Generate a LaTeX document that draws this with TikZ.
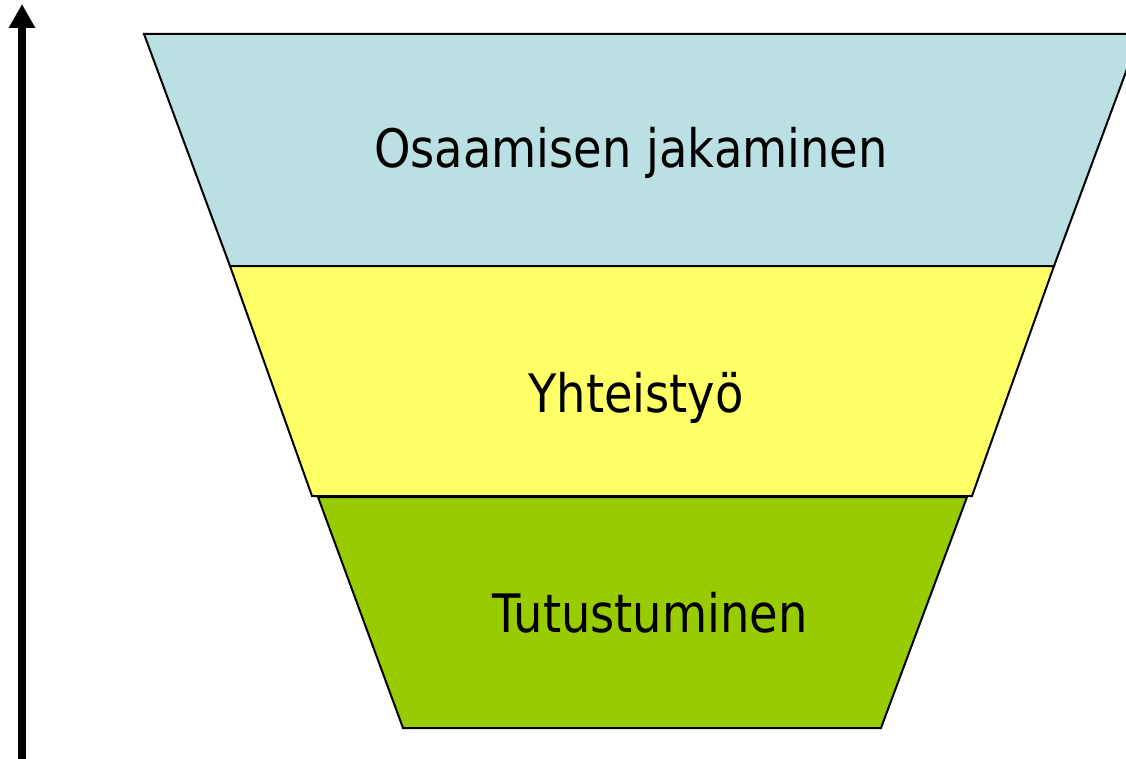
\documentclass[tikz,border=0pt]{standalone}
\usepackage{fontspec}
\setmainfont{DejaVu Sans}
\newfontfamily\labfont[FakeStretch=0.875]{DejaVu Sans}
\usetikzlibrary{arrows.meta}
\definecolor{lblue}{RGB}{186,224,228}
\definecolor{lyellow}{RGB}{255,255,102}
\definecolor{lgreen}{RGB}{153,204,0}
\tikzset{
  band/.style={draw=black, line width=2pt, line join=miter},
  lab/.style={font=\labfont\fontsize{53}{60}\selectfont, inner sep=0pt, anchor=base},
}
\begin{document}
\begin{tikzpicture}[x=1pt,y=-1pt]
\useasboundingbox (0,0) rectangle (1126,759);
\clip (0,0) rectangle (1126,759);
\fill[white] (0,0) rectangle (1126,759);
% bands
\draw[band, fill=lblue] (144,34) -- (1140,34) -- (1054,266) -- (230,266) -- cycle;
\draw[band, fill=lyellow] (230,266) -- (1054,266) -- (972,496) -- (312,496) -- cycle;
\draw[band, fill=lgreen] (318,497) -- (967,497) -- (881,728) -- (403,728) -- cycle;
% labels
\node[lab] (t1) at (631,168) {Osaamisen jakaminen};
\node[lab] (t2) at (636,412) {Yhteistyö};
\node[lab] (t3) at (650,632) {Tutustuminen};
% arrow
\coordinate (abot) at (22,762);
\coordinate (atop) at (22,4);
\draw[line width=8pt, -{Triangle[width=25pt,length=24pt]}] (abot) -- (atop);
\end{tikzpicture}
\end{document}
